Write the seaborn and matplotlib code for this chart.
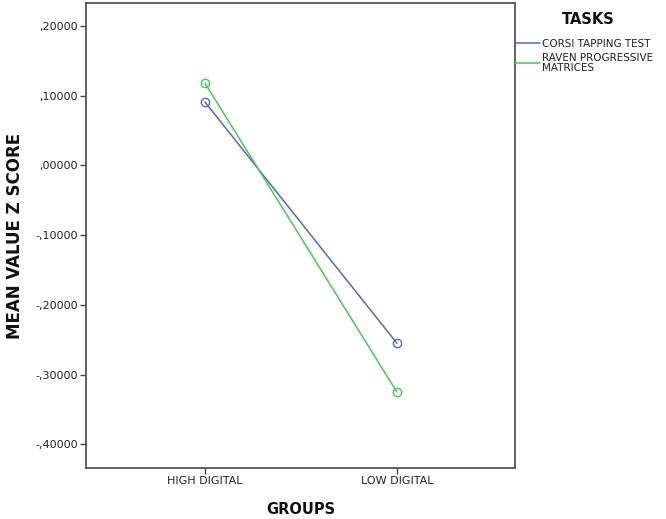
import matplotlib
matplotlib.use("Agg")
import matplotlib.pyplot as plt
import seaborn as sns
import pandas as pd
from matplotlib.lines import Line2D

groups = ["HIGH DIGITAL", "LOW DIGITAL"]
tasks = ["CORSI TAPPING TEST", "RAVEN PROGRESSIVE\nMATRICES"]
corsi = [0.091, -0.255]
raven = [0.118, -0.325]
yticks = [0.2, 0.1, 0.0, -0.1, -0.2, -0.3, -0.4]
ytick_labels = [",20000", ",10000", ",00000", "-,10000", "-,20000", "-,30000", "-,40000"]
colors = ["#5468c2", "#4cc45a"]

df = pd.DataFrame({
    "group": groups * 2,
    "task": [tasks[0]] * 2 + [tasks[1]] * 2,
    "z": corsi + raven,
})

sns.set_theme(style="white")
plt.rcParams["font.family"] = ["DejaVu Sans"]

fig = plt.figure(figsize=(6.66, 5.19), dpi=100)
ax = fig.add_axes([0.1291, 0.0983, 0.6441, 0.8959])

sns.pointplot(data=df, x="group", y="z", hue="task", palette=colors,
              markers="o", errorbar=None, ax=ax, legend=False,
              markersize=6, linewidth=1.1)
for ln in ax.lines:
    ln.set_markerfacecolor("none")
    ln.set_markeredgewidth(1.0)

ax.set_xlim(-0.62, 1.615)
ax.set_ylim(-0.434, 0.233)
ax.set_yticks(yticks)
ax.set_yticklabels(ytick_labels, fontsize=8, color="#222222")
ax.set_xticks([0, 1])
ax.set_xticklabels(groups, fontsize=8, color="#222222")
ax.tick_params(axis="both", which="both", direction="out", length=4, width=1,
               color="#444444", left=True, bottom=True, pad=2)
for s in ax.spines.values():
    s.set_color("#555555")
    s.set_linewidth(1.3)

ax.set_xlabel("GROUPS", fontsize=10.5, fontweight="bold", labelpad=11, color="#111111")
ax.set_ylabel("MEAN VALUE Z SCORE", fontsize=12, fontweight="bold", labelpad=8, color="#111111")

fig.text(588 / 666, 1 - 19 / 519, "TASKS", ha="center", va="center",
         fontsize=10.5, fontweight="bold", color="#111111")
handles = [Line2D([0], [0], color=c, lw=1.1) for c in colors]
leg = fig.legend(handles, tasks, loc="upper left", bbox_to_anchor=(0.7733, 1 - 39 / 519),
                 frameon=False, fontsize=7.5, handlelength=2.4, handletextpad=0.15,
                 labelspacing=0.4, borderpad=0, borderaxespad=0)
for t in leg.get_texts():
    t.set_linespacing(0.95)
    t.set_color("#222222")
fig.savefig("out.png", dpi=100)
